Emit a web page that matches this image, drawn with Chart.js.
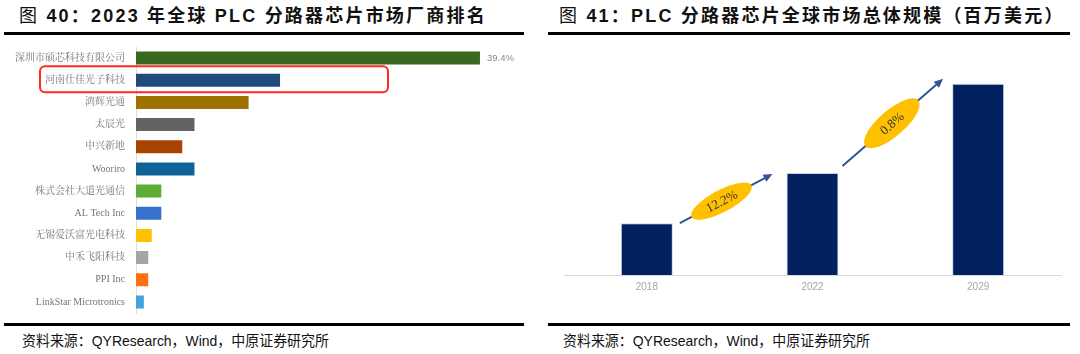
<!DOCTYPE html>
<html>
<head>
<meta charset="utf-8">
<script src="https://cdn.jsdelivr.net/npm/chart.js@4"></script>
<style>
  body { margin: 0; background: #fff; }
  #page { position: relative; width: 1080px; height: 354px; overflow: hidden; }
  .title { position: absolute; top: 5px; font: bold 18px "Liberation Sans", "Noto Sans CJK SC", sans-serif; letter-spacing: 2.2px; color: #111; white-space: nowrap; line-height: 22px; }
  .title span { font-weight: normal; }
  .rule { position: absolute; height: 3px; background: #000; }
  .note { position: absolute; top: 331px; font: 15px "Liberation Sans Narrow", "Liberation Sans", "Noto Sans CJK SC", sans-serif; color: #111; white-space: nowrap; line-height: 20px; transform: scaleX(0.93); transform-origin: left center; }
  canvas { position: absolute; }
</style>
</head>
<body>
<div id="page">
  <div class="title" style="left:19px"><span>图</span> 40：2023 年全球 PLC 分路器芯片市场厂商排名</div>
  <div class="title" style="left:559px"><span>图</span> 41：PLC 分路器芯片全球市场总体规模（百万美元）</div>
  <div class="rule" style="left:4px;width:520px;top:32px"></div>
  <div class="rule" style="left:548px;width:522px;top:32px"></div>
  <div class="rule" style="left:4px;width:520px;top:323px"></div>
  <div class="rule" style="left:548px;width:522px;top:323px"></div>
  <div class="note" style="left:22px">资料来源：QYResearch，Wind，中原证券研究所</div>
  <div class="note" style="left:563px">资料来源：QYResearch，Wind，中原证券研究所</div>
  <canvas id="rank" width="530" height="300" style="left:0;top:30px"></canvas>
  <canvas id="market" width="540" height="270" style="left:540px;top:30px"></canvas>
</div>
<script>
// 2023 market share of PLC splitter chip makers (%)
var companies = ['深圳市硕芯科技有限公司', '河南仕佳光子科技', '鸿辉光通', '太辰光', '中兴新地', 'Wooriro',
  '株式会社大道光通信', 'AL Tech Inc', '无锡爱沃富光电科技', '中禾飞阳科技', 'PPI Inc', 'LinkStar Microtronics'];
var shares = [39.4, 16.5, 12.9, 6.7, 5.3, 6.7, 2.9, 2.9, 1.8, 1.4, 1.4, 0.9];
var barColors = ['#38691f', '#1e4a7e', '#9e7200', '#636363', '#a84400', '#0f6297',
  '#5bad33', '#3472cc', '#ffc000', '#a5a5a5', '#fe7012', '#45a1e0'];
var labeledBars = [0];
var highlightIdx = 1;

// global market size (USD mn)
var years = ['2018', '2022', '2029'];
var marketSize = [101, 199, 373];
var cagrLabels = ['12.2%', '0.8%'];

var cjkSerif = '"Liberation Serif", "Noto Serif CJK SC", "Noto Sans CJK SC", serif';

// value label + red box on the left chart
var rankDecor = {
  id: 'rankDecor',
  afterDatasetsDraw: function (chart) {
    var ctx = chart.ctx;
    var meta = chart.getDatasetMeta(0);
    ctx.save();
    ctx.font = '9.5px "Liberation Sans", sans-serif';
    ctx.fillStyle = '#8c8c8c';
    ctx.textBaseline = 'middle';
    labeledBars.forEach(function (i) {
      var b = meta.data[i];
      ctx.fillText(shares[i].toFixed(1) + '%', b.x + 7, b.y);
    });
    var hb = meta.data[highlightIdx];
    var left = chart.chartArea.left - 96;
    ctx.beginPath();
    ctx.roundRect(left, hb.y - 14, 348, 26, 5);
    ctx.lineWidth = 2;
    ctx.strokeStyle = '#ff2a1a';
    ctx.stroke();
    ctx.restore();
  }
};

new Chart(document.getElementById('rank'), {
  type: 'bar',
  data: {
    labels: companies,
    datasets: [{
      data: shares,
      backgroundColor: barColors,
      borderWidth: 0,
      categoryPercentage: 1,
      barPercentage: 0.59
    }]
  },
  options: {
    indexAxis: 'y',
    responsive: false,
    animation: false,
    layout: { padding: { top: 7.8, bottom: 11.8, left: 0, right: 44.8 } },
    plugins: { legend: { display: false }, tooltip: { enabled: false } },
    scales: {
      x: { display: false, min: 0, max: 40 },
      y: {
        afterFit: function (s) { s.width = 136; },
        grid: { display: false, drawTicks: false },
        border: { display: true, color: '#dedede', width: 1 },
        ticks: { color: '#767676', padding: 11, font: { size: 10, family: cjkSerif } }
      }
    }
  },
  plugins: [rankDecor]
});

// arrows and CAGR ellipses on the right chart
function arrow(ctx, x1, y1, x2, y2) {
  var a = Math.atan2(y2 - y1, x2 - x1);
  ctx.beginPath();
  ctx.moveTo(x1, y1);
  ctx.lineTo(x2 - 5 * Math.cos(a), y2 - 5 * Math.sin(a));
  ctx.stroke();
  ctx.beginPath();
  ctx.moveTo(x2, y2);
  ctx.lineTo(x2 - 9 * Math.cos(a) + 4 * Math.sin(a), y2 - 9 * Math.sin(a) - 4 * Math.cos(a));
  ctx.lineTo(x2 - 9 * Math.cos(a) - 4 * Math.sin(a), y2 - 9 * Math.sin(a) + 4 * Math.cos(a));
  ctx.closePath();
  ctx.fill();
}

var growthDecor = {
  id: 'growthDecor',
  afterDatasetsDraw: function (chart) {
    var ctx = chart.ctx;
    var bars = chart.getDatasetMeta(0).data;
    var w = bars[0].width;
    var spans = [
      { s: [bars[0].x + w / 2 + 7, bars[0].y], e: [bars[1].x - 40, bars[1].y + 1], t: 0.45, rx: 34, ry: 11 },
      { s: [bars[1].x + w / 2 + 4, bars[1].y - 7], e: [bars[2].x - 35, bars[2].y - 5], t: 0.49, rx: 35, ry: 13 }
    ];
    ctx.save();
    spans.forEach(function (p, i) {
      ctx.strokeStyle = '#2f5597';
      ctx.fillStyle = '#2f5597';
      ctx.lineWidth = 2;
      arrow(ctx, p.s[0], p.s[1], p.e[0], p.e[1]);
      var ang = Math.atan2(p.e[1] - p.s[1], p.e[0] - p.s[0]);
      var cx = p.s[0] + (p.e[0] - p.s[0]) * p.t;
      var cy = p.s[1] + (p.e[1] - p.s[1]) * p.t;
      ctx.beginPath();
      ctx.ellipse(cx, cy, p.rx, p.ry, ang, 0, Math.PI * 2);
      ctx.fillStyle = '#ffc000';
      ctx.fill();
      ctx.translate(cx, cy);
      ctx.rotate(ang);
      ctx.fillStyle = '#333';
      ctx.font = '13px "Liberation Serif", serif';
      ctx.textAlign = 'center';
      ctx.textBaseline = 'middle';
      ctx.fillText(cagrLabels[i], 0, 1);
      ctx.setTransform(1, 0, 0, 1, 0, 0);
    });
    ctx.restore();
  }
};

new Chart(document.getElementById('market'), {
  type: 'bar',
  data: {
    labels: years,
    datasets: [{
      data: marketSize,
      backgroundColor: '#002060',
      borderColor: '#c9d3e6',
      borderWidth: 1,
      categoryPercentage: 1,
      barPercentage: 0.314
    }]
  },
  options: {
    responsive: false,
    animation: false,
    layout: { padding: { top: 40, bottom: 0, left: 24, right: 19 } },
    plugins: { legend: { display: false }, tooltip: { enabled: false } },
    scales: {
      y: { display: false, min: 0, max: 400 },
      x: {
        afterFit: function (s) { s.height = 25; },
        grid: { display: false, drawTicks: false },
        border: { display: true, color: '#d9d9d9', width: 1 },
        ticks: { color: '#a6a6a6', padding: 6, font: { size: 10, family: '"Liberation Sans", sans-serif' } }
      }
    }
  },
  plugins: [growthDecor]
});
</script>
</body>
</html>
